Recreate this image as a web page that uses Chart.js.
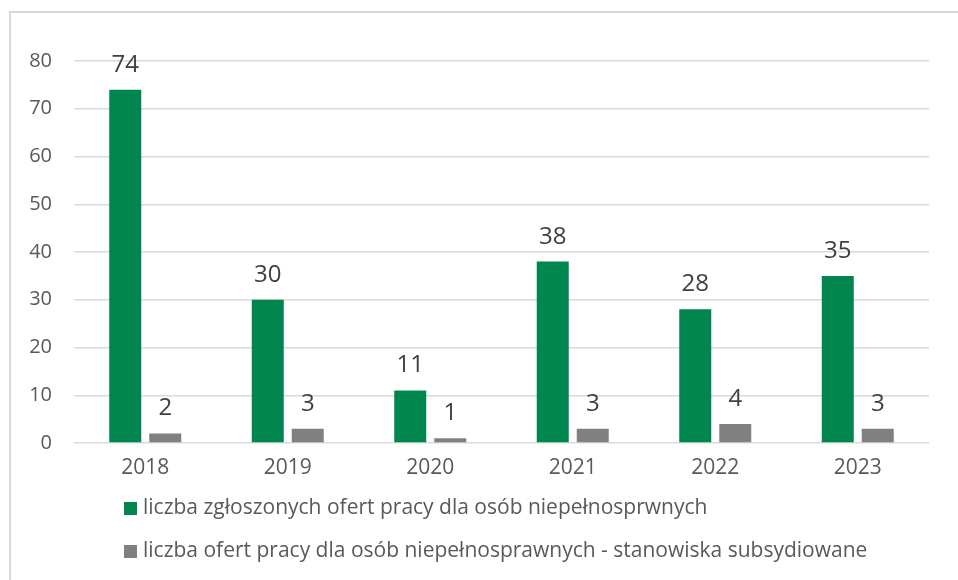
<!DOCTYPE html>
<html>
<head>
<meta charset="utf-8">
<script src="https://cdn.jsdelivr.net/npm/chart.js@4"></script>
<style>
  html, body { margin:0; padding:0; background:#fff; }
  #wrap { position:relative; width:958px; height:580px; overflow:hidden; }
  #frame { position:absolute; left:9px; top:11px; width:2000px; height:2000px;
           border-left:2px solid #d9d9d9; border-top:2px solid #d9d9d9; box-sizing:border-box; }
  canvas { position:absolute; left:0; top:0; }
</style>
</head>
<body>
<div id="wrap">
  <div id="frame"></div>
  <canvas id="c" width="958" height="580"></canvas>
</div>
<script>
const categories = ['2018', '2019', '2020', '2021', '2022', '2023'];
const seriesOffers = [74, 30, 11, 38, 28, 35];
const seriesSubsidised = [2, 3, 1, 3, 4, 3];
const seriesNames = [
  'liczba zgłoszonych ofert pracy dla osób niepełnosprwnych',
  'liczba ofert pracy dla osób niepełnosprawnych - stanowiska subsydiowane'
];
const yTicks = [0, 10, 20, 30, 40, 50, 60, 70, 80];

const GREEN = '#00854f';
const GRAY = '#808080';
const FONT = "'Open Sans', sans-serif";

const labelPlugin = {
  id: 'valueLabels',
  afterDatasetsDraw(chart) {
    const ctx = chart.ctx;
    ctx.save();
    ctx.font = '24px ' + FONT;
    ctx.fillStyle = '#404040';
    ctx.textAlign = 'center';
    ctx.textBaseline = 'alphabetic';
    chart.data.datasets.forEach((ds, i) => {
      chart.getDatasetMeta(i).data.forEach((bar, j) => {
        ctx.fillText(String(ds.data[j]), bar.x, bar.y - 18);
      });
    });
    ctx.restore();
  }
};

const legendPlugin = {
  id: 'customLegend',
  afterDraw(chart) {
    const ctx = chart.ctx;
    ctx.save();
    ctx.font = '21px ' + FONT;
    ctx.textBaseline = 'middle';
    ctx.textAlign = 'left';
    const rows = [508, 551];
    chart.data.datasets.forEach((ds, i) => {
      ctx.fillStyle = ds.backgroundColor;
      ctx.fillRect(124, rows[i] - 6, 13, 13);
      ctx.fillStyle = '#595959';
      ctx.fillText(ds.label, 143, rows[i]);
    });
    ctx.restore();
  }
};

new Chart(document.getElementById('c'), {
  type: 'bar',
  data: {
    labels: categories,
    datasets: [
      { label: seriesNames[0], data: seriesOffers, backgroundColor: GREEN,
        barPercentage: 0.8, categoryPercentage: 0.5614 },
      { label: seriesNames[1], data: seriesSubsidised, backgroundColor: GRAY,
        barPercentage: 0.8, categoryPercentage: 0.5614 }
    ]
  },
  options: {
    responsive: false,
    animation: false,
    devicePixelRatio: 1,
    layout: { padding: { top: 61, right: 29, bottom: 97, left: 0 } },
    plugins: {
      legend: { display: false },
      tooltip: { enabled: false }
    },
    scales: {
      x: {
        grid: { display: false, drawTicks: false },
        border: { display: false },
        ticks: { color: '#595959', font: { family: FONT, size: 21 }, padding: 12 },
        afterFit(s) { s.height = 40; }
      },
      y: {
        min: 0, max: 80,
        afterBuildTicks(s) { s.ticks = yTicks.map(v => ({ value: v })); },
        grid: { color: '#d9d9d9', lineWidth: 1.5, drawTicks: false },
        border: { display: false },
        ticks: { color: '#595959', font: { family: FONT, size: 20 }, padding: 22 },
        afterFit(s) { s.width = 74; }
      }
    }
  },
  plugins: [labelPlugin, legendPlugin]
});
</script>
</body>
</html>
